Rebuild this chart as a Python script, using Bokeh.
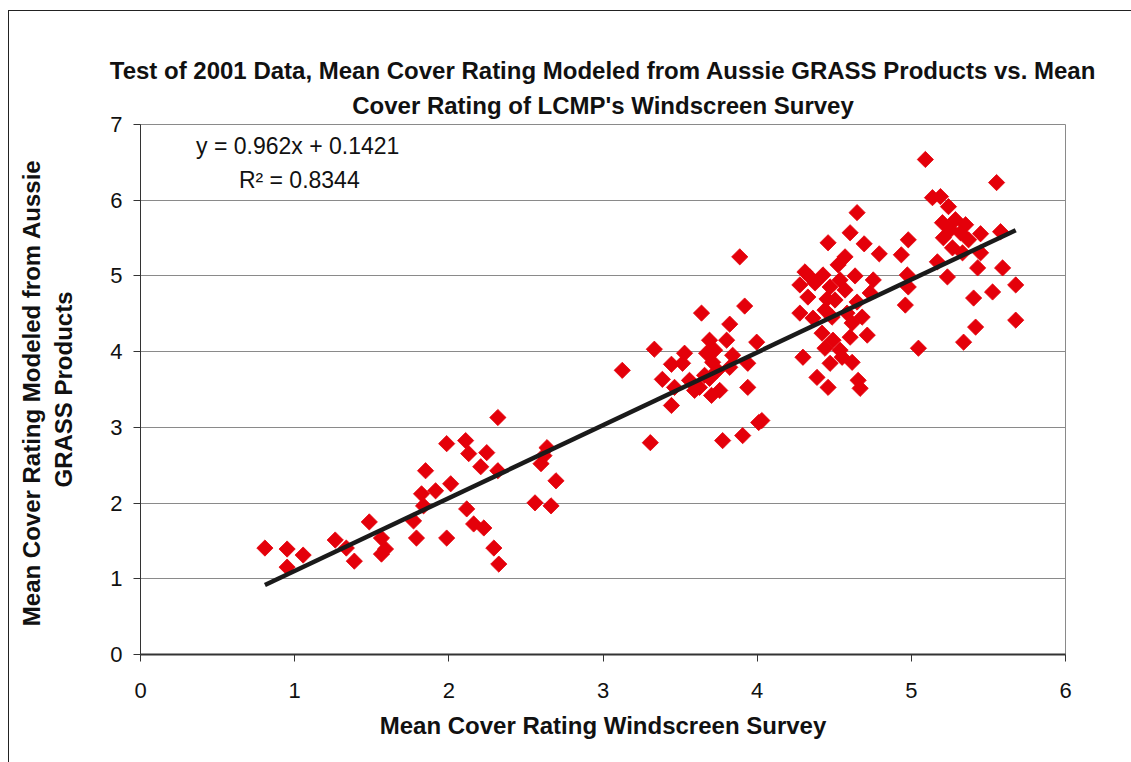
import math
from bokeh.plotting import figure
from bokeh.models import Title, Label, FixedTicker, Range1d
from bokeh.embed import file_html
from bokeh.resources import INLINE

# ---- data ----
survey = [
    0.807, 0.951, 0.951, 1.055, 1.263, 1.335, 1.387, 1.484, 1.563, 1.563, 1.589, 1.771, 1.790, 1.849,
    1.823, 1.836, 1.914, 1.986, 2.012, 1.986, 2.109, 2.129, 2.246, 2.207, 2.318, 2.318, 2.116, 2.161,
    2.227, 2.292, 2.324, 2.559, 2.663, 2.598, 2.637, 2.695, 2.617,
    3.125, 3.333, 3.385, 3.444, 3.516, 3.529, 3.444, 3.639, 3.919, 3.822, 3.691, 3.672, 3.724, 3.802,
    3.997, 3.939, 3.939, 3.822, 3.757, 3.626, 3.594, 3.691, 3.711, 3.464, 3.307, 3.776, 3.906, 4.010,
    3.887, 4.030, 3.659, 3.743, 3.704, 3.561, 3.841,
    4.648, 4.603, 4.460, 4.694, 4.792, 4.980, 4.935, 4.570, 4.525, 4.635, 4.753, 4.974, 4.277, 4.342,
    4.427, 4.473, 4.329, 4.980, 4.961, 4.453, 4.648, 4.733, 4.277, 4.362, 4.440, 4.486, 4.583, 4.681,
    4.616, 4.421, 4.603, 4.714, 4.440, 4.492, 4.538, 4.473, 4.297, 4.551, 4.616, 4.388, 4.460, 4.655,
    4.668, 4.310, 4.375, 4.538, 4.505, 4.570,
    5.091, 5.553, 5.137, 5.189, 5.241, 5.202, 5.286, 5.352, 5.319, 5.449, 5.579, 5.208, 5.267, 5.332,
    5.449, 5.169, 5.430, 5.592, 5.234, 5.527, 5.677, 5.404, 5.677, 5.417, 5.339, 5.046, 5.254, 5.371,
]
modeled = [
    1.406, 1.393, 1.154, 1.313, 1.512, 1.406, 1.233, 1.751, 1.538, 1.326, 1.393, 1.764, 1.538, 2.427,
    2.122, 1.963, 2.162, 2.785, 2.255, 1.538, 2.825, 2.653, 2.666, 2.480, 3.130, 2.427, 1.923, 1.724,
    1.671, 1.406, 1.194, 2.003, 1.963, 2.520, 2.732, 2.294, 2.626,
    3.753, 4.032, 3.634, 3.833, 3.846, 3.979, 3.289, 4.509, 4.602, 4.363, 4.151, 3.979, 4.019, 4.151,
    4.125, 3.846, 3.528, 3.793, 3.488, 3.528, 3.488, 3.647, 3.859, 3.528, 2.798, 2.825, 2.891, 3.064,
    5.252, 3.090, 3.687, 3.753, 3.422, 3.621, 3.952,
    5.836, 5.570, 5.438, 5.424, 5.292, 5.477, 5.279, 5.252, 5.146, 5.000, 4.947, 5.013, 4.881, 4.987,
    5.013, 4.854, 4.721, 4.854, 4.615, 4.695, 4.655, 4.775, 4.509, 4.443, 4.549, 4.456, 4.509, 4.456,
    4.377, 4.244, 4.191, 4.218, 4.045, 4.151, 4.019, 3.846, 3.926, 3.926, 3.859, 3.660, 3.528, 3.621,
    3.515, 5.053, 4.907, 4.947, 4.682, 4.814,
    6.538, 6.233, 6.034, 6.048, 5.915, 5.703, 5.743, 5.676, 5.570, 5.557, 5.584, 5.504, 5.371, 5.305,
    5.305, 5.186, 5.106, 5.106, 4.987, 4.788, 4.881, 4.708, 4.416, 4.324, 4.125, 4.045, 5.610, 5.477,
]
slope = 0.962
intercept = 0.1421
r_squared = 0.8344
x_ticks = [0, 1, 2, 3, 4, 5, 6]
y_ticks = [0, 1, 2, 3, 4, 5, 6, 7]

title_1 = "Test of 2001 Data, Mean Cover Rating Modeled from Aussie GRASS Products vs. Mean"
title_2 = "Cover Rating of LCMP's Windscreen Survey"
x_label = "Mean Cover Rating Windscreen Survey"
y_label = "Mean Cover Rating Modeled from  Aussie\nGRASS Products"

FONT = "Liberation Sans"

p = figure(width=1123, height=752, output_backend="svg", toolbar_location=None,
           x_range=Range1d(0, 6), y_range=Range1d(0, 7),
           min_border_left=131, min_border_right=67, min_border_top=113, min_border_bottom=109,
           background_fill_color="white", border_fill_color="white")
p.styles = {"margin-left": "8px", "margin-top": "10px",
            "border-left": "1px solid #222", "border-top": "1px solid #222"}

# titles (second line added first so it sits nearer the plot)
t2 = Title(text=title_2, align="center", text_font=FONT, text_font_size="24px",
           text_font_style="bold", text_color="#111", standoff=12)
t1 = Title(text=title_1, align="center", text_font=FONT, text_font_size="24px",
           text_font_style="bold", text_color="#111", standoff=0)
p.add_layout(t2, "above")
p.add_layout(t1, "above")
p.title.visible = False

# axes
for ax in (p.xaxis[0], p.yaxis[0]):
    ax.major_label_text_font = FONT
    ax.major_label_text_font_size = "22px"
    ax.major_label_text_color = "#111"
    ax.axis_label_text_font = FONT
    ax.axis_label_text_font_size = "24px"
    ax.axis_label_text_font_style = "bold"
    ax.axis_label_text_color = "#111"
    ax.minor_tick_line_color = None
    ax.major_tick_in = 0
    ax.major_tick_out = 7
    ax.axis_line_color = "#333"
    ax.major_tick_line_color = "#333"

p.xaxis.ticker = FixedTicker(ticks=x_ticks)
p.yaxis.ticker = FixedTicker(ticks=y_ticks)
p.xaxis.axis_label = x_label
p.yaxis.axis_label = y_label
p.xaxis.major_label_standoff = 21
p.xaxis.axis_label_standoff = 11
p.yaxis.major_label_standoff = 11
p.yaxis.axis_label_standoff = 30
p.xaxis.axis_line_width = 2

p.xgrid.grid_line_color = None
p.ygrid.grid_line_color = "#8a8a8a"
p.ygrid.grid_line_width = 1
p.outline_line_color = "#8a8a8a"
p.outline_line_width = 1

# points: diamonds = squares rotated 45 degrees
p.scatter(survey, modeled, marker="square", angle=math.pi / 4, size=11.5,
          fill_color="#e4000a", line_color="#e4000a", line_width=0.8)

# regression line
xmin, xmax = min(survey), max(survey)
p.line([xmin, xmax], [slope * xmin + intercept, slope * xmax + intercept],
       line_color="#1a1a1a", line_width=4.5)

# equation labels (centred on each other, as in the reference)
p.add_layout(Label(x=1.02, y=6.71, text=f"y = {slope}x + {intercept}", text_font=FONT,
                   text_font_size="23px", text_color="#111", text_baseline="middle",
                   text_align="center"))
p.add_layout(Label(x=1.03, y=6.27, text=f"R\u00b2 = {r_squared}", text_font=FONT,
                   text_font_size="23px", text_color="#111", text_baseline="middle",
                   text_align="center"))

open("out.html", "w").write(file_html(p, INLINE))
